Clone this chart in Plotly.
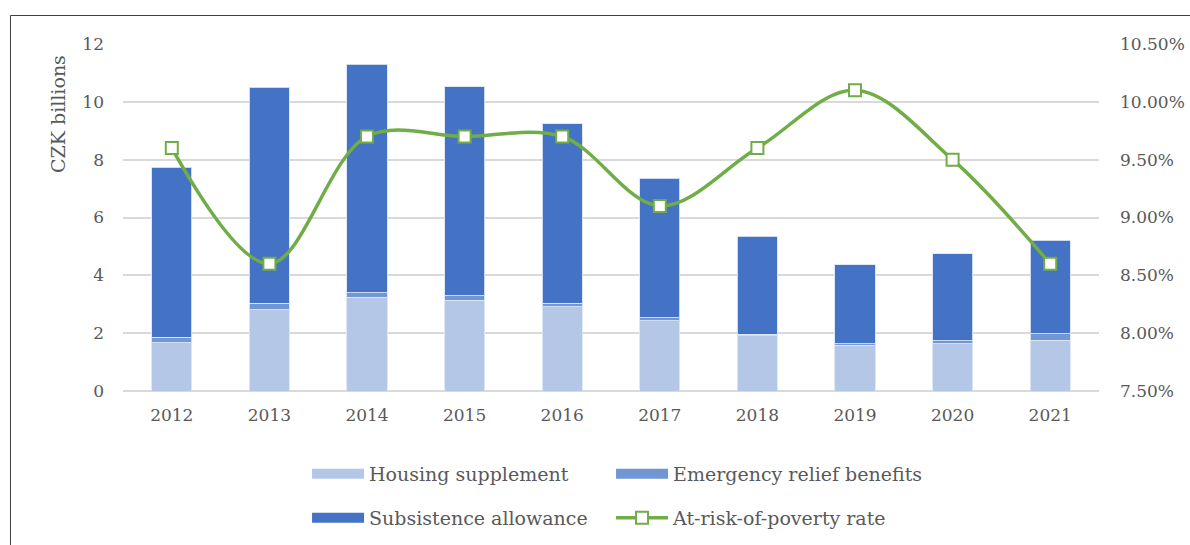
import plotly.graph_objects as go

years = ["2012", "2013", "2014", "2015", "2016", "2017", "2018", "2019", "2020", "2021"]
housing = [1.67, 2.81, 3.25, 3.14, 2.91, 2.43, 1.91, 1.58, 1.64, 1.76]
emergency = [0.19, 0.23, 0.14, 0.16, 0.13, 0.11, 0.06, 0.06, 0.09, 0.22]
totals = [7.73, 10.50, 11.30, 10.52, 9.24, 7.36, 5.35, 4.37, 4.74, 5.22]
subsistence = [round(t - h - e, 2) for t, h, e in zip(totals, housing, emergency)]
poverty = [9.6, 8.6, 9.7, 9.7, 9.7, 9.1, 9.6, 10.1, 9.5, 8.6]
y_title = "CZK billions"

C_HOUSING = "#B4C7E7"
C_EMERG = "#7096D3"
C_SUBS = "#4472C4"
C_LINE = "#70AD47"
FONT = "DejaVu Serif"
GREY = "#595959"

fig = go.Figure()
edge = dict(color="rgba(220,230,245,0.9)", width=1)
fig.add_bar(x=years, y=housing, name="Housing supplement", marker=dict(color=C_HOUSING, line=edge), showlegend=False)
fig.add_bar(x=years, y=emergency, name="Emergency relief benefits", marker=dict(color=C_EMERG, line=edge), showlegend=False)
fig.add_bar(x=years, y=subsistence, name="Subsistence allowance", marker=dict(color=C_SUBS, line=edge), showlegend=False)
fig.add_scatter(x=years, y=poverty, name="At-risk-of-poverty rate", yaxis="y2", mode="lines+markers",
                line=dict(color=C_LINE, width=3.5, shape="spline", smoothing=1),
                marker=dict(symbol="square", size=12, color="white", line=dict(color=C_LINE, width=2)),
                showlegend=False)

# legend entries, one legend per slot (2 x 2 grid)
def leg(name, color, legend, marker=None, width=13):
    kw = dict(x=[None], y=[None], name=name, mode="lines", line=dict(color=color, width=width), legend=legend)
    if marker:
        kw["mode"] = "lines+markers"
        kw["marker"] = marker
    fig.add_scatter(**kw)

leg("Housing supplement", C_HOUSING, "legend")
leg("Emergency relief benefits", C_EMERG, "legend2")
leg("Subsistence allowance", C_SUBS, "legend3")
leg("At-risk-of-poverty rate", C_LINE, "legend4",
    marker=dict(symbol="square", size=12, color="white", line=dict(color=C_LINE, width=2)), width=3.5)

L, R, T, B = 123, 91, 44, 154
W, H = 1190, 545
pw, ph = W - L - R, H - T - B

def px(x):
    return (x - L) / pw

def py(y):
    return (H - B - y) / ph

legend_common = dict(orientation="h", xanchor="left", yanchor="middle", itemwidth=52,
                     bgcolor="rgba(0,0,0,0)",
                     font=dict(family=FONT, size=19, color=GREY), traceorder="normal")

fig.update_layout(
    width=W, height=H,
    margin=dict(l=L, r=R, t=T, b=B, autoexpand=False),
    paper_bgcolor="white", plot_bgcolor="white",
    barmode="stack", bargap=0.59,
    font=dict(family=FONT, color=GREY, size=17),
    xaxis=dict(range=[-0.5, len(years) - 0.5], showgrid=False, showline=False, ticks="",
               tickfont=dict(size=17, color=GREY), ticklabelstandoff=12, zeroline=False),
    yaxis=dict(range=[0, 12], dtick=2, showgrid=True, gridcolor="#D9D9D9", gridwidth=1.5,
               zeroline=True, zerolinecolor="#D9D9D9", zerolinewidth=1.5, showline=False, ticks="",
               tickfont=dict(size=17, color=GREY), ticklabelstandoff=18, automargin=False),
    yaxis2=dict(range=[7.5, 10.5], dtick=0.5, overlaying="y", side="right", showgrid=False,
                zeroline=False, showline=False, ticks="", tickformat=".2f", ticksuffix="%",
                tickfont=dict(size=17, color=GREY), ticklabelstandoff=20, automargin=False),
    legend=dict(x=px(309) - 0.002, y=py(474), **legend_common),
    legend2=dict(x=px(613) - 0.002, y=py(474), **legend_common),
    legend3=dict(x=px(309) - 0.002, y=py(518), **legend_common),
    legend4=dict(x=px(613) - 0.002, y=py(518), **legend_common),
    annotations=[dict(text=y_title, xref="paper", yref="paper", x=px(58), y=py(114),
                      xanchor="center", yanchor="middle", textangle=-90, showarrow=False,
                      font=dict(family=FONT, size=19, color=GREY))],
    shapes=[dict(type="rect", xref="paper", yref="paper", x0=px(10.5), x1=px(1200), y0=py(15.5), y1=py(560),
                 line=dict(color="#404040", width=1), fillcolor="rgba(0,0,0,0)", layer="below")],
)

fig.write_html("out.html")
